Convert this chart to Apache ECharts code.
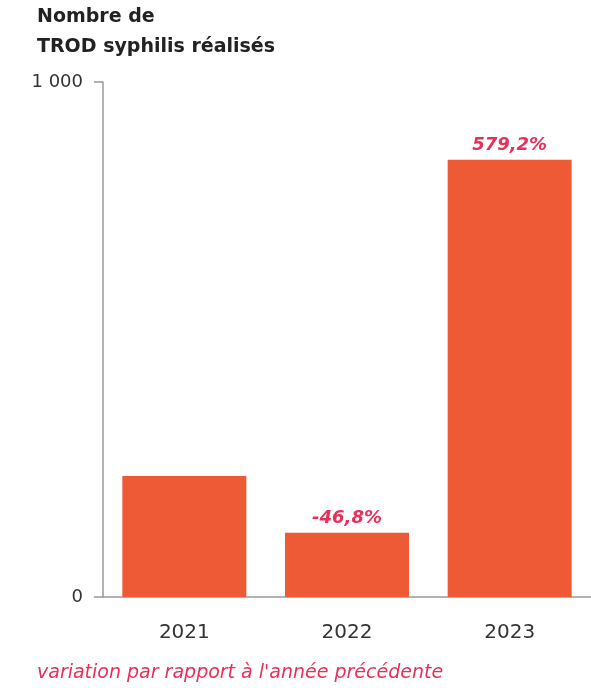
<!DOCTYPE html>
<html>
<head>
<meta charset="utf-8">
<script src="https://cdn.jsdelivr.net/npm/echarts@6/dist/echarts.min.js"></script>
<style>
  html, body { margin: 0; padding: 0; background: #fff; }
  #chart { width: 591px; height: 688px; }
</style>
</head>
<body>
<div id="chart"></div>
<script>
// données
var years = ["2021", "2022", "2023"];
var trodValues = [235, 125, 849];
var variations = ["", "-46,8%", "579,2%"];
var yTicks = [0, 1000];

var chart = echarts.init(document.getElementById("chart"));
var font = "'DejaVu Sans', sans-serif";

chart.setOption({
  animation: false,
  textStyle: { fontFamily: font },
  grid: { left: 103, right: 0, top: 82, bottom: 91 },
  graphic: [
    { type: "text", left: 37, top: 8,
      style: { text: "Nombre de", font: "bold 19px " + font, fill: "#222" } },
    { type: "text", left: 37, top: 38,
      style: { text: "TROD syphilis réalisés", font: "bold 19px " + font, fill: "#222" } },
    { type: "text", left: 37, top: 664,
      style: { text: "variation par rapport à l'année précédente", font: "italic 19px " + font, fill: "#e8305a" } }
  ],
  xAxis: {
    type: "category",
    data: years,
    axisLine: { lineStyle: { color: "#999", width: 1.5 } },
    axisTick: { show: false },
    axisLabel: { color: "#333", fontSize: 20, margin: 26, fontFamily: font }
  },
  yAxis: {
    type: "value",
    min: yTicks[0],
    max: yTicks[yTicks.length - 1],
    interval: 1000,
    splitLine: { show: false },
    axisLine: { show: true, lineStyle: { color: "#999", width: 1.5 } },
    axisTick: { show: true, length: 9, lineStyle: { color: "#999", width: 1.5 } },
    axisLabel: {
      color: "#333", fontSize: 18, margin: 20, fontFamily: font,
      formatter: function (v) { return v === 1000 ? "1 000" : String(v); }
    }
  },
  series: [{
    type: "bar",
    data: trodValues,
    barWidth: 124,
    itemStyle: { color: "#ee5a35" },
    label: {
      show: true,
      position: "top",
      distance: 5,
      color: "#e8305a",
      fontSize: 18,
      fontWeight: "bold",
      fontStyle: "italic",
      fontFamily: font,
      formatter: function (p) { return variations[p.dataIndex]; }
    }
  }]
});
</script>
</body>
</html>
